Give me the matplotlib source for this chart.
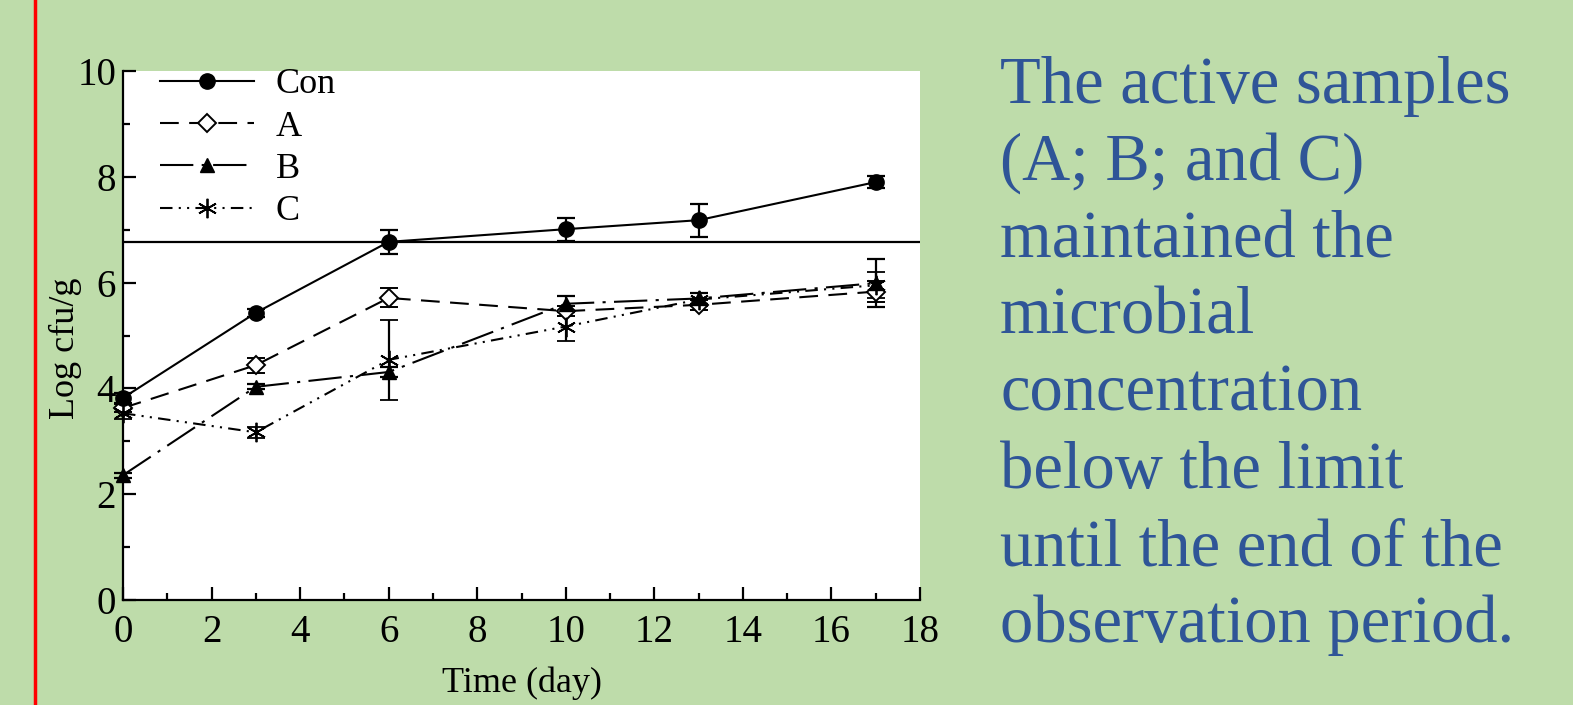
import matplotlib
matplotlib.use("Agg")
import matplotlib.pyplot as plt
from matplotlib.lines import Line2D

# ---- data ----
days = [0, 3, 6, 10, 13, 17]
con = [3.82, 5.43, 6.77, 7.01, 7.18, 7.90]
con_err = [0.10, 0.08, 0.23, 0.22, 0.31, 0.12]
a_vals = [3.63, 4.44, 5.71, 5.46, 5.58, 5.83]
a_err = [0.08, 0.14, 0.18, 0.10, 0.10, 0.20]
b_vals = [2.36, 4.03, 4.31, 5.60, 5.70, 5.99]
b_err = [0.05, 0.05, 0.10, 0.15, 0.10, 0.45]
c_vals = [3.53, 3.17, 4.54, 5.17, 5.68, 5.95]
c_err = [0.10, 0.10, 0.75, 0.27, 0.12, 0.25]
limit = 6.76
series_labels = ["Con", "A", "B", "C"]
x_ticks = [0, 2, 4, 6, 8, 10, 12, 14, 16, 18]
y_ticks = [0, 2, 4, 6, 8, 10]
side_text = ["The active samples", "(A; B; and C)", "maintained the", "microbial",
             "concentration", "below the limit", "until the end of the", "observation period."]

BG = "#BEDCAA"
plt.rcParams['font.family'] = ['Liberation Serif', 'DejaVu Serif']

W, H = 1573, 705
fig = plt.figure(figsize=(W / 100, H / 100), dpi=100)
fig.patch.set_facecolor(BG)

ax = fig.add_axes([123 / W, 1 - 600 / H, (920 - 123) / W, (600 - 71) / H])
ax.set_facecolor("white")
ax.set_xlim(0, 18)
ax.set_ylim(0, 10)

lw = 1.5
styles = [
    dict(marker="o", ms=11, mfc="black", mec="black", ls="-"),
    dict(marker="D", ms=9, mfc="white", mec="black", mew=1.4, ls=(0, (9, 5))),
    dict(marker="^", ms=10, mfc="black", mec="black", ls=(0, (16, 4, 1.5, 4))),
    dict(marker=(6, 2, 0), ms=14, mfc="black", mec="black", mew=1.3, ls=(0, (6, 3, 1, 3, 1, 3))),
]
all_vals = [con, a_vals, b_vals, c_vals]
all_errs = [con_err, a_err, b_err, c_err]
common = dict(color="black", lw=lw, elinewidth=1.6, capsize=6.5, capthick=1.6, clip_on=False)
for vals, errs, st, z in zip(all_vals, all_errs, styles, [5, 4, 4, 4]):
    ax.errorbar(days, vals, yerr=errs, zorder=z, **st, **common)
ax.axhline(limit, color="black", lw=1.6, zorder=3)

for s in ["top", "right"]:
    ax.spines[s].set_visible(False)
for s in ["left", "bottom"]:
    ax.spines[s].set_linewidth(1.6)

ax.set_xticks(x_ticks)
ax.set_yticks(y_ticks)
ax.set_xticks(range(1, 18, 2), minor=True)
ax.set_yticks(range(1, 10, 2), minor=True)
ax.tick_params(which="major", direction="in", length=9.5, width=1.6, labelsize=28, pad=10)
ax.tick_params(which="minor", direction="in", length=5, width=1.6)
ax.tick_params(axis="y", which="major", pad=5)

ax.set_xlabel("Time (day)", fontsize=26)
ax.set_ylabel("Log cfu/g", fontsize=26, va="center")
ax.xaxis.set_label_coords(0.5, -0.125)
ax.yaxis.set_label_coords(-0.072, 0.475)

handles = [Line2D([], [], color="black", lw=lw, **st) for st in styles]
leg = ax.legend(handles, series_labels, loc="upper left", bbox_to_anchor=(160 / W, 1 - 68 / H),
                bbox_transform=fig.transFigure, frameon=False, fontsize=26,
                handlelength=2.6, handletextpad=0.6, labelspacing=0.25,
                borderpad=0, borderaxespad=0)

# red vertical rule on the left
fig.add_artist(Line2D([35 / W, 35 / W], [0, 1], transform=fig.transFigure,
                      color="red", lw=2.5))

# side text
for i, line in enumerate(side_text):
    fig.text(1000 / W, 1 - (103 + 77 * i) / H, line, fontsize=48, color="#2F5597",
             ha="left", va="baseline")

fig.savefig("out.png", dpi=100, facecolor=BG)
